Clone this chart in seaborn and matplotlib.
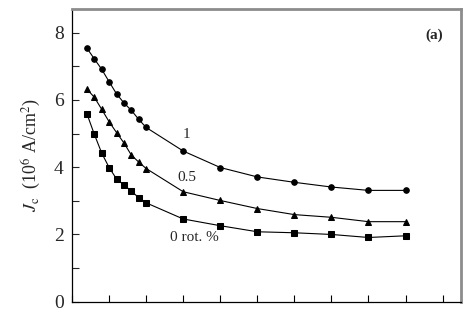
import numpy as np
import pandas as pd
import seaborn as sns
import matplotlib.pyplot as plt
from matplotlib.ticker import MultipleLocator, NullFormatter

# ================= DATA =================
x_vals = [0.4, 0.6, 0.8, 1.0, 1.2, 1.4, 1.6, 1.8, 2.0, 3, 4, 5, 6, 7, 8, 9]
jc_1 = [7.54, 7.22, 6.91, 6.54, 6.18, 5.91, 5.69, 5.42, 5.18, 4.48, 3.99, 3.71, 3.55, 3.41, 3.31, 3.31]
jc_05 = [6.32, 6.08, 5.72, 5.35, 5.03, 4.72, 4.36, 4.15, 3.96, 3.27, 3.01, 2.77, 2.59, 2.51, 2.38, 2.38]
jc_0 = [5.59, 4.98, 4.42, 3.99, 3.65, 3.47, 3.29, 3.09, 2.94, 2.46, 2.26, 2.08, 2.05, 2.00, 1.91, 1.96]
series_labels = ["1", "0.5", "0 rot. %"]
# =========================================

sns.set_theme(style="white")
plt.rcParams['font.family'] = ['Liberation Serif', 'DejaVu Serif']
plt.rcParams['mathtext.fontset'] = 'stix'

fig = plt.figure(figsize=(4.71, 3.13), dpi=100)
ax = fig.add_axes([0.153, 0.036, 0.826, 0.935])

markers = ['o', '^', 's']
for ys, m in zip([jc_1, jc_05, jc_0], markers):
    df = pd.DataFrame({'x': x_vals, 'y': ys})
    sns.lineplot(data=df, x='x', y='y', color='black', linewidth=0.8,
                 marker=m, markersize=4.0, markeredgecolor='black',
                 markerfacecolor='black', ax=ax)

# curve labels
ax.text(3.08, 4.97, series_labels[0], fontsize=11, ha='center', va='center')
ax.text(3.1, 3.69, series_labels[1], fontsize=11, ha='center', va='center')
ax.text(3.3, 1.91, series_labels[2], fontsize=11, ha='center', va='center')
ax.text(9.76, 7.92, "(a)", fontsize=11, ha='center', va='center', fontweight='bold')

ax.set_xlim(0, 10.5)
ax.set_ylim(0, 8.7)
ax.xaxis.set_major_locator(MultipleLocator(1))
ax.xaxis.set_major_formatter(NullFormatter())
ax.yaxis.set_major_locator(MultipleLocator(2))
ax.yaxis.set_minor_locator(MultipleLocator(1))
ax.tick_params(axis='x', which='major', direction='in', length=5, width=0.8, colors='black', bottom=True)
ax.tick_params(axis='y', which='both', direction='in', length=5, width=0.8, left=True, labelsize=14, pad=6)
ax.set_xlabel('')
ax.set_ylabel(r'$J_{\rm c}$  (10$^6$ A/cm$^2$)', fontsize=13, labelpad=8)

for s in ['left', 'bottom']:
    ax.spines[s].set_color('black')
    ax.spines[s].set_linewidth(0.9)
for s in ['top', 'right']:
    ax.spines[s].set_color('0.55')
    ax.spines[s].set_linewidth(2.0)

fig.savefig('out.png', dpi=100)
